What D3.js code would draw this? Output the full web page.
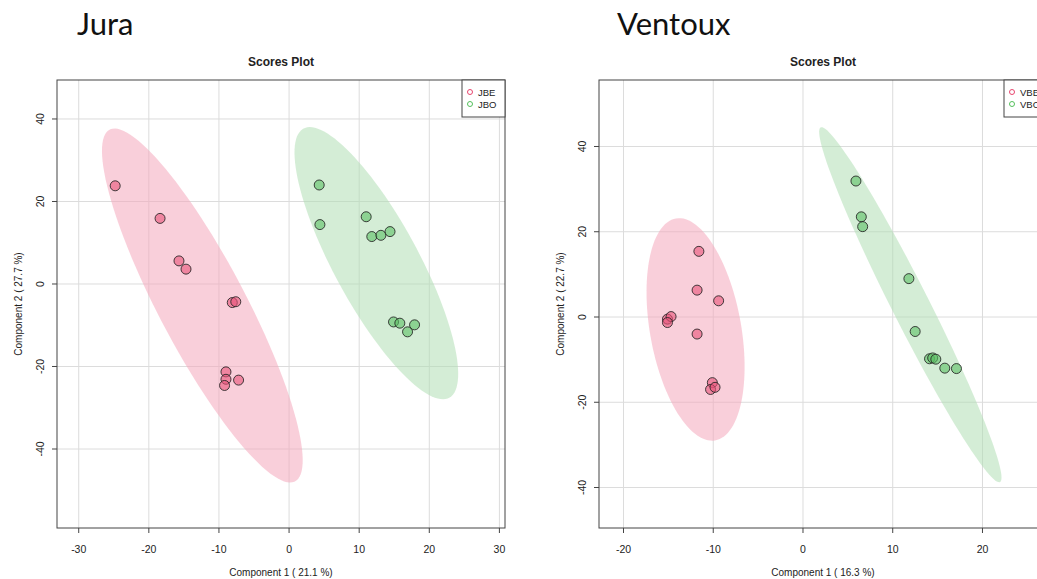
<!DOCTYPE html>
<html>
<head>
<meta charset="utf-8">
<script src="https://cdn.jsdelivr.net/npm/d3@7"></script>
<style>
  body { margin: 0; background: #fff; }
  text { font-family: "Liberation Sans", Arial, sans-serif; fill: #222; }
</style>
</head>
<body>
<script>
// Jura scores
var juraGroups = ['JBE', 'JBO'];
var jbeX = [-24.8, -18.4, -15.7, -14.7, -8.1, -7.6, -9.0, -9.0, -9.2, -7.2];
var jbeY = [23.8, 15.9, 5.6, 3.6, -4.5, -4.3, -21.3, -23.1, -24.6, -23.3];
var jboX = [4.3, 4.4, 11.0, 11.8, 13.1, 14.4, 14.9, 15.8, 16.9, 17.9];
var jboY = [24.0, 14.4, 16.3, 11.5, 11.8, 12.7, -9.2, -9.5, -11.6, -9.9];
var juraXTicks = [-30, -20, -10, 0, 10, 20, 30];
var juraYTicks = [-40, -20, 0, 20, 40];

// Ventoux scores
var ventouxGroups = ['VBE', 'VBO'];
var vbeX = [-11.6, -11.8, -9.4, -11.8, -15.1, -14.7, -15.1, -10.1, -10.3, -9.8];
var vbeY = [15.4, 6.3, 3.8, -4.0, -0.5, 0.1, -1.3, -15.4, -17.0, -16.5];
var vboX = [5.9, 6.5, 6.65, 11.8, 12.5, 14.1, 14.45, 14.8, 15.8, 17.1];
var vboY = [31.9, 23.5, 21.2, 9.0, -3.4, -9.8, -9.6, -9.9, -12.0, -12.1];
var ventouxXTicks = [-20, -10, 0, 10, 20];
var ventouxYTicks = [-40, -20, 0, 20, 40];

var width = 1037, height = 579;
var ellipseFill = ['#f4a8bb', '#b0deb4'];
var pointFill = ['#e8537a', '#5cc064'];
var legendColor = ['#e8466e', '#55c05c'];

var svg = d3.select('body')
  .append('svg')
  .attr('width', width)
  .attr('height', height);

svg.append('rect').attr('width', width).attr('height', height).attr('fill', '#fff');

// 95% confidence ellipse from the group covariance
var confEllipse = function(xs, ys) {
  var n = xs.length;
  var mx = d3.mean(xs), my = d3.mean(ys);
  var a = d3.sum(xs, d => (d - mx) * (d - mx)) / (n - 1);
  var c = d3.sum(ys, d => (d - my) * (d - my)) / (n - 1);
  var b = d3.sum(xs, (d, i) => (d - mx) * (ys[i] - my)) / (n - 1);
  var half = Math.sqrt(((a - c) / 2) * ((a - c) / 2) + b * b);
  var l1 = (a + c) / 2 + half, l2 = (a + c) / 2 - half;
  var th = 0.5 * Math.atan2(2 * b, a - c);
  var t = Math.sqrt(5.991465);
  return d3.range(0, 121).map(function(i) {
    var ang = i / 120 * 2 * Math.PI;
    var u = Math.sqrt(l1) * t * Math.cos(ang);
    var v = Math.sqrt(Math.max(l2, 0)) * t * Math.sin(ang);
    return [mx + u * Math.cos(th) - v * Math.sin(th), my + u * Math.sin(th) + v * Math.cos(th)];
  });
}

var drawPanel = function(p) {
  var x = d3.scaleLinear().domain(p.xDomain).range([p.left, p.right]);
  var y = d3.scaleLinear().domain(p.yDomain).range([p.bottom, p.top]);

  svg.append('text')
    .attr('x', p.nameX)
    .attr('y', 35)
    .style('font-family', 'Lato, "Open Sans", sans-serif')
    .style('font-size', '31px')
    .style('fill', '#111')
    .text(p.name);

  svg.append('text')
    .attr('x', (p.left + p.right) / 2)
    .attr('y', 66)
    .attr('text-anchor', 'middle')
    .style('font-size', '12px')
    .style('font-weight', 'bold')
    .text('Scores Plot');

  var g = svg.append('g');

  // grid
  g.selectAll('.vgrid')
    .data(p.xTicks)
    .enter()
    .append('line')
    .attr('x1', d => x(d)).attr('x2', d => x(d))
    .attr('y1', p.top).attr('y2', p.bottom)
    .attr('stroke', '#dcdcdc');
  g.selectAll('.hgrid')
    .data(p.yTicks)
    .enter()
    .append('line')
    .attr('x1', p.left).attr('x2', p.right)
    .attr('y1', d => y(d)).attr('y2', d => y(d))
    .attr('stroke', '#dcdcdc');

  var line = d3.line().x(d => x(d[0])).y(d => y(d[1]));

  p.series.forEach(function(s, k) {
    g.append('path')
      .attr('d', line(confEllipse(s.x, s.y)) + 'Z')
      .attr('fill', ellipseFill[k])
      .attr('fill-opacity', 0.55);
  });

  p.series.forEach(function(s, k) {
    g.selectAll('.pt' + k)
      .data(s.x)
      .enter()
      .append('circle')
      .attr('cx', d => x(d))
      .attr('cy', (d, i) => y(s.y[i]))
      .attr('r', 5)
      .attr('fill', pointFill[k])
      .attr('fill-opacity', 0.6)
      .attr('stroke', '#222')
      .attr('stroke-opacity', 0.85)
      .attr('stroke-width', 1);
  });

  // box
  g.append('rect')
    .attr('x', p.left).attr('y', p.top)
    .attr('width', p.right - p.left).attr('height', p.bottom - p.top)
    .attr('fill', 'none')
    .attr('stroke', '#444');

  // x axis
  var xa = svg.append('g');
  xa.selectAll('line')
    .data(p.xTicks)
    .enter()
    .append('line')
    .attr('x1', d => x(d)).attr('x2', d => x(d))
    .attr('y1', p.bottom).attr('y2', p.bottom + 5)
    .attr('stroke', '#444');
  xa.selectAll('text')
    .data(p.xTicks)
    .enter()
    .append('text')
    .attr('x', d => x(d))
    .attr('y', p.bottom + 25)
    .attr('text-anchor', 'middle')
    .style('font-size', '10.5px')
    .text(d => d);
  svg.append('text')
    .attr('x', (p.left + p.right) / 2)
    .attr('y', 576)
    .attr('text-anchor', 'middle')
    .style('font-size', '10px')
    .text(p.xLabel);

  // y axis
  var ya = svg.append('g');
  ya.selectAll('line')
    .data(p.yTicks)
    .enter()
    .append('line')
    .attr('x1', p.left - 5).attr('x2', p.left)
    .attr('y1', d => y(d)).attr('y2', d => y(d))
    .attr('stroke', '#444');
  ya.selectAll('text')
    .data(p.yTicks)
    .enter()
    .append('text')
    .attr('transform', d => 'translate(' + (p.left - 13) + ',' + y(d) + ') rotate(-90)')
    .attr('text-anchor', 'middle')
    .style('font-size', '10.5px')
    .text(d => d);
  svg.append('text')
    .attr('transform', 'translate(' + (p.left - 35) + ',' + ((p.top + p.bottom) / 2) + ') rotate(-90)')
    .attr('text-anchor', 'middle')
    .style('font-size', '10px')
    .text(p.yLabel);

  // legend
  var lg = svg.append('g');
  lg.append('rect')
    .attr('x', p.right - 43).attr('y', p.top)
    .attr('width', 43).attr('height', 37)
    .attr('fill', '#fff')
    .attr('stroke', '#444');
  lg.selectAll('circle')
    .data(p.groups)
    .enter()
    .append('circle')
    .attr('cx', p.right - 35)
    .attr('cy', (d, i) => p.top + 12 + 12 * i)
    .attr('r', 2.5)
    .attr('fill', 'none')
    .attr('stroke', (d, i) => legendColor[i]);
  lg.selectAll('text')
    .data(p.groups)
    .enter()
    .append('text')
    .attr('x', p.right - 27)
    .attr('y', (d, i) => p.top + 15.5 + 12 * i)
    .style('font-size', '9.5px')
    .text(d => d);
}

drawPanel({
  name: 'Jura', nameX: 77,
  left: 57, right: 505, top: 80, bottom: 528,
  xDomain: [-33.1, 30.8], yDomain: [-59.15, 49.45],
  xTicks: juraXTicks, yTicks: juraYTicks,
  xLabel: 'Component 1 ( 21.1 %)', yLabel: 'Component 2 ( 27.7 %)',
  groups: juraGroups,
  series: [{x: jbeX, y: jbeY}, {x: jboX, y: jboY}]
});

drawPanel({
  name: 'Ventoux', nameX: 617,
  left: 599, right: 1047, top: 80, bottom: 528,
  xDomain: [-22.73, 27.19], yDomain: [-49.5, 55.6],
  xTicks: ventouxXTicks, yTicks: ventouxYTicks,
  xLabel: 'Component 1 ( 16.3 %)', yLabel: 'Component 2 ( 22.7 %)',
  groups: ventouxGroups,
  series: [{x: vbeX, y: vbeY}, {x: vboX, y: vboY}]
});
</script>
</body>
</html>
